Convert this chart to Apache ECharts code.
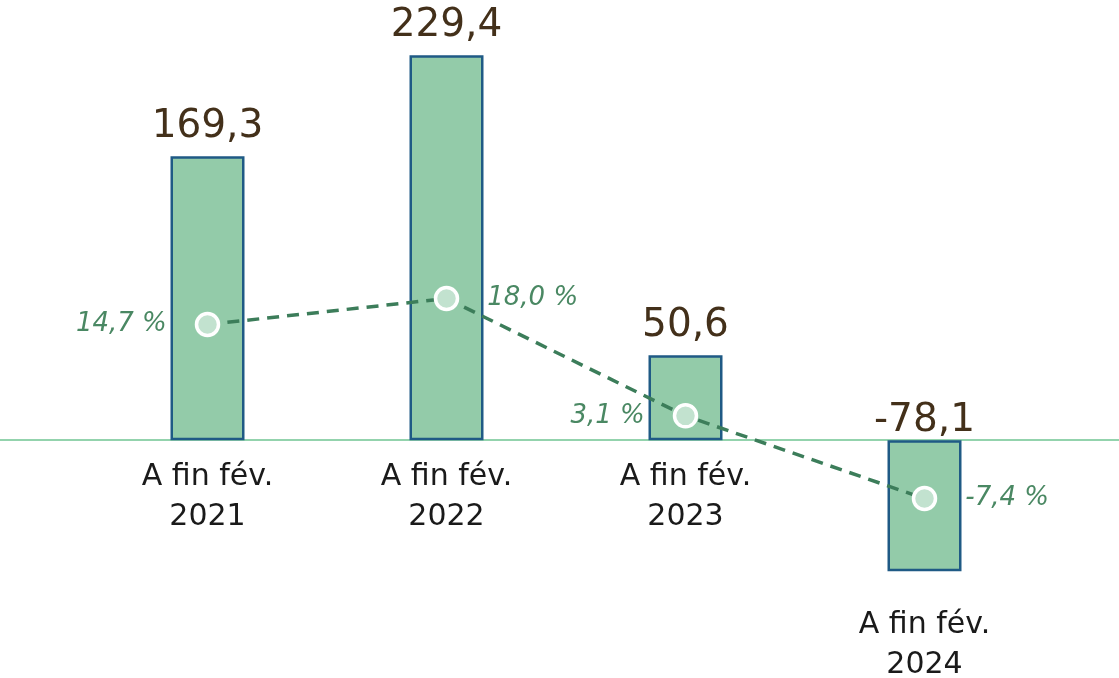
<!DOCTYPE html>
<html><head><meta charset="utf-8">
<script src="https://cdn.jsdelivr.net/npm/echarts@6/dist/echarts.min.js"></script>
<style>html,body{margin:0;padding:0;background:#fff}#c{width:1119px;height:678px}</style>
</head><body><div id="c"></div>
<script>
const categories = ['A fin fév.\n2021', 'A fin fév.\n2022', 'A fin fév.\n2023', 'A fin fév.\n2024'];
const amounts = [169.3, 229.4, 50.6, -78.1];
const growthPct = [14.7, 18.0, 3.1, -7.4];
const pctLabelSide = ['left', 'right', 'left', 'right'];

const FONT = 'DejaVu Sans';
const fmt = v => v.toFixed(1).replace('.', ',');

const chart = echarts.init(document.getElementById('c'));
chart.setOption({
  animation: false,
  grid: [
    { left: 88, right: 75, top: 4, height: 604, outerBoundsMode: 'none', containLabel: false },
    { left: 0, right: 0, top: 4, height: 604, outerBoundsMode: 'none', containLabel: false }
  ],
  xAxis: [
    {
      type: 'category', gridIndex: 0, position: 'bottom', offset: -168,
      data: categories.map((c, i) => amounts[i] < 0
        ? { value: c, textStyle: { padding: [148, 0, 0, 0] } }
        : c),
      axisLine: { show: false, onZero: false }, axisTick: { show: false },
      axisLabel: { fontFamily: FONT, fontSize: 30, lineHeight: 40, color: '#1a1a1a', margin: 17, interval: 0 }
    },
    {
      type: 'value', gridIndex: 1, min: 0, max: 1,
      axisLine: { show: true, onZero: true, lineStyle: { color: '#93d3ad', width: 2 } },
      axisTick: { show: false }, axisLabel: { show: false }, splitLine: { show: false }
    }
  ],
  yAxis: [
    { type: 'value', gridIndex: 0, min: -100, max: 260, show: false, splitLine: { show: false } },
    { type: 'value', gridIndex: 0, min: -21.3, max: 55.4, show: false, splitLine: { show: false } },
    { type: 'value', gridIndex: 1, min: -100, max: 260, show: false, splitLine: { show: false } }
  ],
  series: [
    {
      type: 'bar', xAxisIndex: 0, yAxisIndex: 0,
      data: amounts.map(v => ({ value: v, label: { distance: v < 0 ? 0 : 10 } })),
      barWidth: 74,
      itemStyle: { color: '#93cba9', borderColor: '#1f5a85', borderWidth: 2.5 },
      label: {
        show: true, position: 'top',
        formatter: p => fmt(p.value),
        fontFamily: FONT, fontSize: 39, color: '#43301a'
      }
    },
    {
      type: 'line', xAxisIndex: 0, yAxisIndex: 1,
      data: growthPct.map((v, i) => ({ value: v, label: { position: pctLabelSide[i] } })),
      lineStyle: { color: '#3c7d5a', width: 3.5, type: [12, 8] },
      symbol: 'circle', symbolSize: 22,
      itemStyle: { color: '#c2e2cf', borderColor: '#ffffff', borderWidth: 3.5 },
      z: 5,
      label: {
        show: true, distance: 28,
        formatter: p => fmt(p.value) + ' %',
        fontFamily: FONT, fontSize: 26, fontStyle: 'italic', color: '#4a8863'
      }
    }
  ]
});
</script>
</body></html>
